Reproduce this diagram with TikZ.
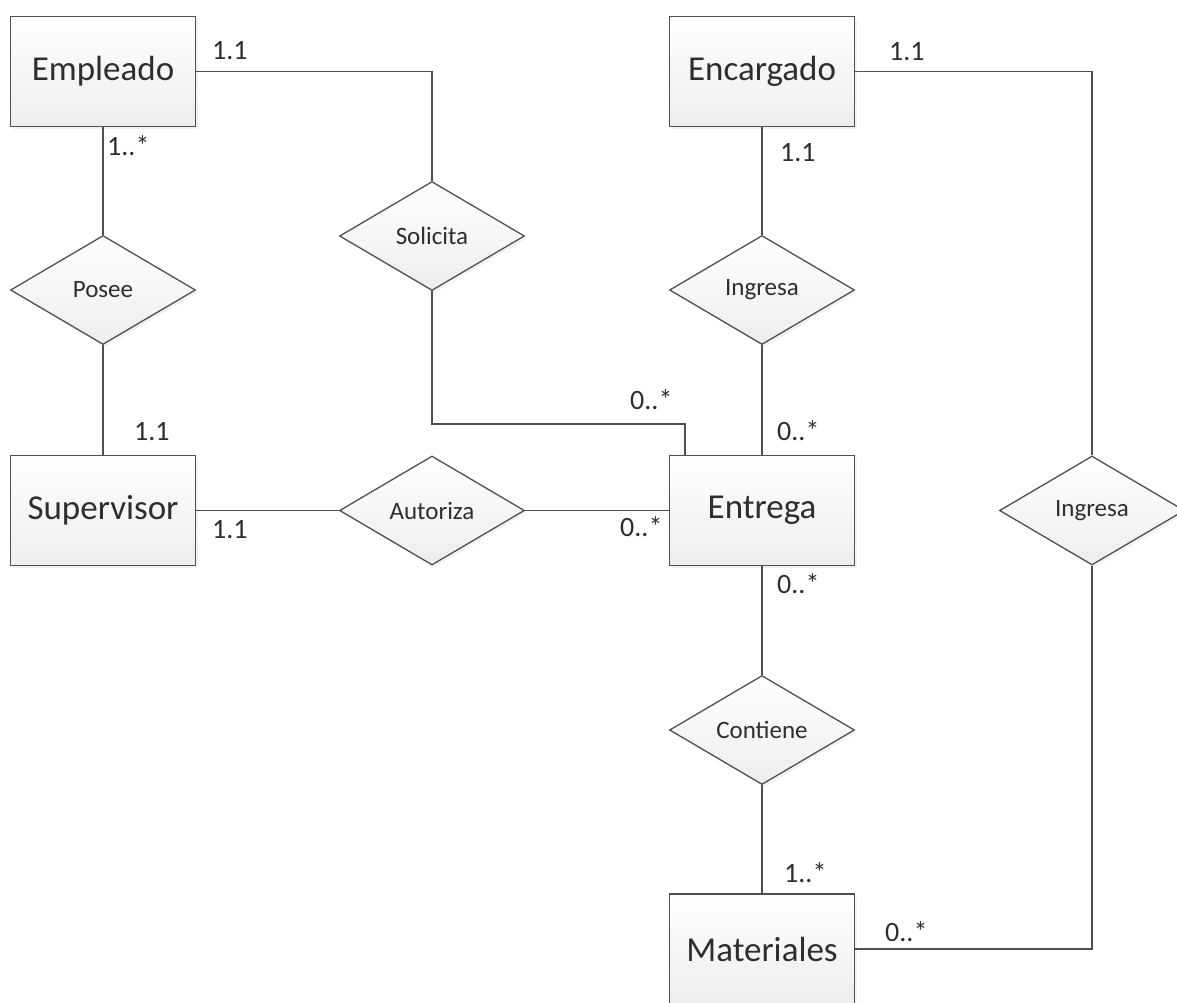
\documentclass[tikz,border=0pt]{standalone}
\usepackage{fontspec}
\setmainfont{Carlito}
\usetikzlibrary{shapes.geometric,shadows}
\definecolor{inkline}{HTML}{505050}
\definecolor{inktext}{HTML}{2E2E2E}
\tikzset{
  entity/.style={draw=inkline, line width=1.4pt, rectangle, minimum width=185pt, minimum height=110pt,
    inner sep=0pt, top color=white, bottom color=black!7, text=inktext,
    drop shadow={opacity=0.10, shadow xshift=2.5pt, shadow yshift=-2.5pt},
    font=\fontsize{35}{42}\selectfont},
  rel/.style={draw=inkline, line width=1.3pt, diamond, minimum width=185pt, minimum height=109pt,
    inner sep=0pt, top color=white, bottom color=black!7, text=inktext,
    drop shadow={opacity=0.10, shadow xshift=2.5pt, shadow yshift=-2.5pt},
    font=\fontsize{25}{30}\selectfont},
  card/.style={anchor=west, inner sep=0pt, text=inktext, font=\fontsize{28}{33}\selectfont},
  link/.style={draw=inkline, line width=1.4pt}
}
\begin{document}
\begin{tikzpicture}[x=1pt, y=-1pt]
\path[use as bounding box, clip] (0,0) rectangle (1177,1002);
\fill[white] (0,0) rectangle (1177,1002);

% entities
\node[entity] (emp) at (103,71.5) {Empleado};
\node[entity] (enc) at (762,71.5) {Encargado};
\node[entity] (sup) at (103,510.5) {Supervisor};
\node[entity] (ent) at (762,510.5) {Entrega};
\node[entity] (mat) at (762,949) {Materiales};

% relationships
\node[rel] (pos) at (103,290) {Posee};
\node[rel] (sol) at (432,236) {Solicita};
\node[rel] (ing) at (762,290) {Ingresa};
\node[rel] (aut) at (432,510.5) {Autoriza};
\node[rel] (ing2) at (1092,510.5) {Ingresa};
\node[rel] (con) at (762,730) {Contiene};

% connectors
\draw[link] (emp.south) -- (pos.north);
\draw[link] (pos.south) -- (sup.north);
\draw[link] (emp.east) -| (sol.north);
\draw[link] (sol.south) -- ++(0,133) -| ([xshift=16pt]ent.north west);
\draw[link] (sup.east) -- (aut.west);
\draw[link] (aut.east) -- (ent.west);
\draw[link] (enc.south) -- (ing.north);
\draw[link] (ing.south) -- (ent.north);
\draw[link] (ent.south) -- (con.north);
\draw[link] (con.south) -- (mat.north);
\draw[link] (enc.east) -| (ing2.north);
\draw[link] (ing2.south) |- (mat.east);

% cardinalities
\node[card] (c1) at (212,51) {1.1};
\node[card] (c2) at (107,146) {1..*};
\node[card] (c3) at (134,432) {1.1};
\node[card] (c4) at (212,530) {1.1};
\node[card] (c5) at (630,400) {0..*};
\node[card] (c6) at (620,527) {0..*};
\node[card] (c7) at (777,431) {0..*};
\node[card] (c8) at (780,153) {1.1};
\node[card] (c9) at (889,52) {1.1};
\node[card] (c10) at (777,584) {0..*};
\node[card] (c11) at (784,873) {1..*};
\node[card] (c12) at (885,932) {0..*};
\end{tikzpicture}
\end{document}
